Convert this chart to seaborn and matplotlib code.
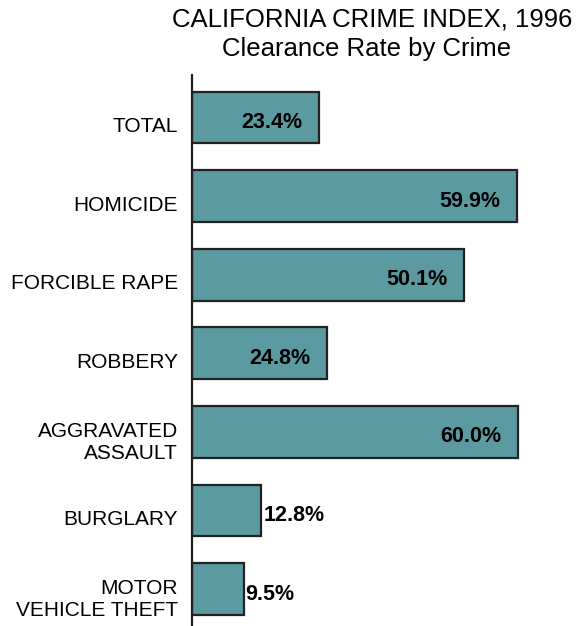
import matplotlib.pyplot as plt
import matplotlib.transforms as mtransforms
import pandas as pd
import seaborn as sns

crimes = ["TOTAL", "HOMICIDE", "FORCIBLE RAPE", "ROBBERY",
          "AGGRAVATED\nASSAULT", "BURGLARY", "MOTOR\nVEHICLE THEFT"]
rates = [23.4, 59.9, 50.1, 24.8, 60.0, 12.8, 9.5]

df = pd.DataFrame({"crime": crimes, "rate": rates})

sns.set_theme(style="white")
plt.rcParams["font.family"] = ["Liberation Sans", "DejaVu Sans"]

fig = plt.figure(figsize=(5.8, 6.26), dpi=100)
ax = fig.add_axes([192 / 580, 0, 369 / 580, 551 / 626])

sns.barplot(data=df, x="rate", y="crime", ax=ax, color="#5a9aa0",
            saturation=1, width=0.66, edgecolor="#222222", linewidth=1.6)

# labels sit a little below bar centre in the original
val_shift = mtransforms.ScaledTranslation(0, -5 / 100, fig.dpi_scale_trans)
tick_shift = mtransforms.ScaledTranslation(0, -7 / 100, fig.dpi_scale_trans)

for i, v in enumerate(rates):
    if v > 20:
        t = ax.text(v - 3, i, f"{v:.1f}%", ha="right", va="center",
                    fontsize=15.5, fontweight="bold", color="black")
    else:
        t = ax.text(v + 0.4, i, f"{v:.1f}%", ha="left", va="center",
                    fontsize=15.5, fontweight="bold", color="black")
    t.set_transform(t.get_transform() + val_shift)

ax.set_xlim(0, 68)
ax.set_ylim(6.47, -0.54)
ax.set_xlabel("")
ax.set_ylabel("")
ax.set_xticks([])
ax.tick_params(axis="y", length=0, pad=10, labelsize=15, labelcolor="black")
for lab in ax.get_yticklabels():
    lab.set_transform(lab.get_transform() + tick_shift)
for side in ["top", "right", "bottom"]:
    ax.spines[side].set_visible(False)
ax.spines["left"].set_color("#222222")
ax.spines["left"].set_linewidth(1.6)

fig.text(372 / 580, 1 - 20 / 626, "CALIFORNIA CRIME INDEX, 1996", ha="center",
         va="center", fontsize=18.5, color="black")
fig.text(367 / 580, 1 - 49 / 626, "Clearance Rate by Crime", ha="center",
         va="center", fontsize=18.5, color="black")

fig.savefig("out.png", dpi=100)
